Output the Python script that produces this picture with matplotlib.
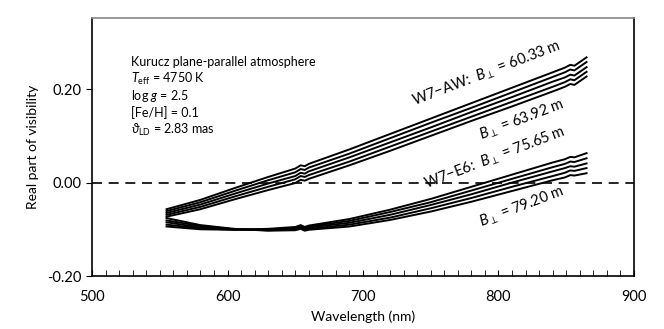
import numpy as np
import matplotlib
matplotlib.use("Agg")
import matplotlib.pyplot as plt
from matplotlib import font_manager
from matplotlib.ticker import MultipleLocator

plt.rcParams["font.family"] = ["Lato", "DejaVu Sans"]
plt.rcParams["mathtext.fontset"] = "custom"
plt.rcParams["mathtext.rm"] = "Lato"

# use a real italic face for math italics if Lato has one
it_file = font_manager.findfont(font_manager.FontProperties(family="Lato", style="italic"))
if "italic" in it_file.lower():
    plt.rcParams["mathtext.it"] = "Lato:italic"
else:
    plt.rcParams["mathtext.it"] = "DejaVu Sans:italic"

# wavelength grid (nm)
wl = [555, 580, 605, 630, 650, 654, 657, 660, 690, 720, 750, 780, 810, 840, 849, 853, 856, 865]

# W7-AW baselines, 60.33 m (top) ... 63.92 m (bottom)
aw_0 = [-0.057, -0.037, -0.012, 0.012, 0.030, 0.037, 0.035, 0.040, 0.071, 0.104, 0.137, 0.170, 0.203, 0.236, 0.246, 0.252, 0.250, 0.268]
aw_1 = [-0.061, -0.042, -0.018, 0.005, 0.022, 0.029, 0.027, 0.032, 0.062, 0.095, 0.128, 0.160, 0.193, 0.226, 0.236, 0.242, 0.240, 0.258]
aw_2 = [-0.065, -0.047, -0.024, -0.002, 0.014, 0.021, 0.019, 0.024, 0.054, 0.086, 0.118, 0.151, 0.183, 0.216, 0.225, 0.231, 0.229, 0.247]
aw_3 = [-0.069, -0.052, -0.030, -0.009, 0.007, 0.014, 0.012, 0.016, 0.045, 0.077, 0.109, 0.141, 0.173, 0.205, 0.215, 0.221, 0.219, 0.237]
aw_4 = [-0.073, -0.057, -0.036, -0.016, -0.001, 0.006, 0.004, 0.008, 0.037, 0.068, 0.100, 0.132, 0.163, 0.195, 0.205, 0.211, 0.209, 0.227]

# W7-E6 baselines, 75.65 m ... 79.20 m
e6_0 = [-0.094, -0.100, -0.101, -0.099, -0.095, -0.091, -0.095, -0.092, -0.078, -0.058, -0.035, -0.009, 0.017, 0.043, 0.050, 0.055, 0.054, 0.063]
e6_1 = [-0.090, -0.098, -0.101, -0.100, -0.097, -0.093, -0.097, -0.094, -0.082, -0.063, -0.042, -0.017, 0.008, 0.033, 0.040, 0.045, 0.044, 0.052]
e6_2 = [-0.085, -0.096, -0.100, -0.101, -0.099, -0.095, -0.099, -0.096, -0.086, -0.069, -0.048, -0.025, 0.000, 0.024, 0.031, 0.035, 0.034, 0.041]
e6_3 = [-0.081, -0.093, -0.100, -0.102, -0.100, -0.097, -0.101, -0.099, -0.090, -0.075, -0.055, -0.033, -0.009, 0.014, 0.021, 0.026, 0.025, 0.031]
e6_4 = [-0.076, -0.091, -0.099, -0.103, -0.102, -0.099, -0.103, -0.101, -0.094, -0.080, -0.062, -0.041, -0.018, 0.005, 0.011, 0.016, 0.015, 0.020]

info_lines = ["Kurucz plane-parallel atmosphere",
              r"$T_\mathrm{eff}$ = 4750 K",
              r"log $g$ = 2.5",
              "[Fe/H] = 0.1",
              r"$\vartheta_\mathrm{LD}$ = 2.83 mas"]

fig = plt.figure(figsize=(6.64, 3.29), dpi=100)
ax = fig.add_axes([0.1386, 0.161, 0.8162, 0.784])

for v in [aw_0, aw_1, aw_2, aw_3, aw_4, e6_0, e6_1, e6_2, e6_3, e6_4]:
    ax.plot(wl, v, color="black", lw=1.4)

ax.axhline(0, color="black", lw=1.2, ls=(0, (6, 4)))

ax.set_xlim(500, 900)
ax.set_ylim(-0.2, 0.352)
ax.xaxis.set_major_locator(MultipleLocator(100))
ax.xaxis.set_minor_locator(MultipleLocator(10))
ax.set_yticks([-0.2, 0.0, 0.2])
ax.set_yticklabels(["-0.20", "0.00", "0.20"])
ax.tick_params(axis="x", which="both", direction="in", length=4, labelsize=10.5, pad=10)
ax.tick_params(axis="y", direction="out", length=4, labelsize=10.5)
ax.spines["top"].set_color("#888888")
for s in ax.spines.values():
    s.set_linewidth(1.2)

ax.set_xlabel("Wavelength (nm)", fontsize=10, labelpad=5)
ax.set_ylabel("Real part of visibility", fontsize=10, labelpad=6)

for i, line in enumerate(info_lines):
    ax.text(529, 0.259 - i * 0.0365, line, fontsize=9, va="center", ha="left")

ax.text(791, 0.233, r"W7$-$AW:  $B_\perp$ = 60.33 m", rotation=21, fontsize=10.5,
        ha="center", va="center", rotation_mode="anchor")
ax.text(817, 0.135, r"$B_\perp$ = 63.92 m", rotation=21, fontsize=10.5,
        ha="center", va="center", rotation_mode="anchor")
ax.text(797, 0.053, r"W7$-$E6:  $B_\perp$ = 75.65 m", rotation=21, fontsize=10.5,
        ha="center", va="center", rotation_mode="anchor")
ax.text(817, -0.051, r"$B_\perp$ = 79.20 m", rotation=21, fontsize=10.5,
        ha="center", va="center", rotation_mode="anchor")

fig.savefig("out.png", dpi=100)
